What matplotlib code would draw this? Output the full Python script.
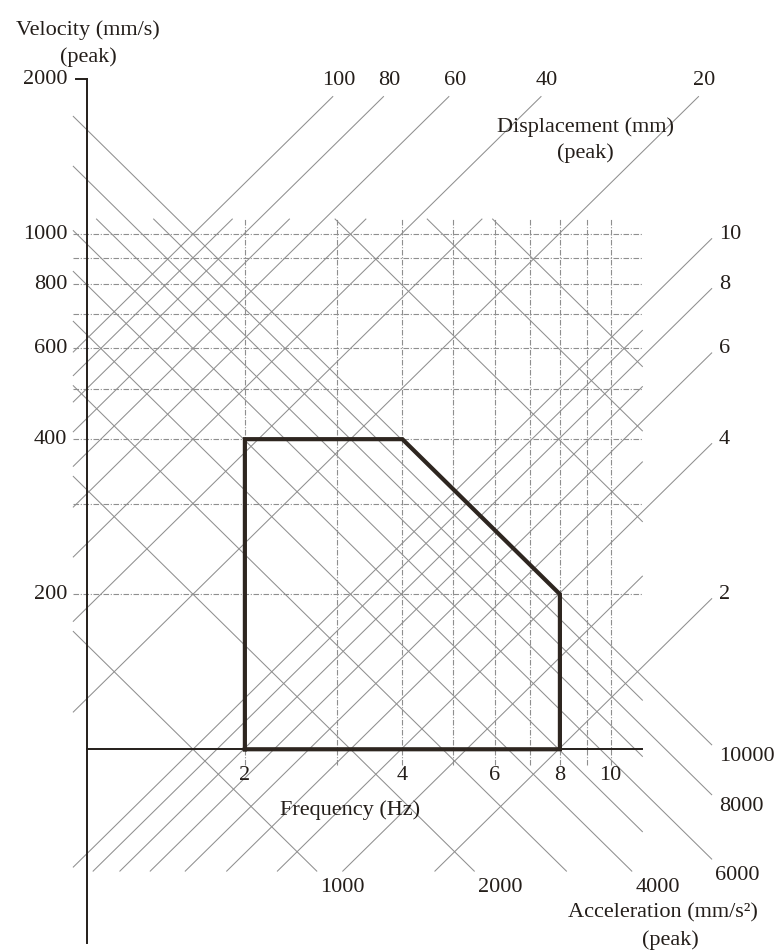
import numpy as np
import matplotlib
matplotlib.use('Agg')
import matplotlib.pyplot as plt

plt.rcParams['font.family'] = ['Liberation Serif', 'DejaVu Serif']

# Skale osi
czestotliwosci_opis = [2, 4, 6, 8, 10]          # Hz
predkosci_opis = [200, 400, 600, 800, 1000]     # mm/s
predkosc_max = 2000
czestotliwosci_siatka = [2, 3, 4, 5, 6, 7, 8, 9, 10]
predkosci_siatka = [200, 300, 400, 500, 600, 700, 800, 900, 1000]

# Linie stalego przemieszczenia (mm) i przyspieszenia (mm/s^2)
przem_gora = [100, 80, 60, 40, 20]
przem_prawo = [10, 8, 6, 4, 2]
przem_reszta = [3, 5, 7, 9, 30, 50, 70, 90]
przysp_prawo = [10000, 8000]
przysp_dol = [6000, 4000, 2000, 1000]
przysp_reszta = [3000, 5000, 7000, 9000, 20000, 30000, 40000]

# Obszar dopuszczalny (f, v)
obszar_f = [2, 2, 4, 8, 8, 2]
obszar_v = [100, 400, 400, 200, 100, 100]

# zakresy rysowania
F_LO, F_HI, V_LO, V_HI = 0.94, 15.6, 58, 1850      # linie opisane
F_HI_2, V_HI_2 = 11.5, 1070                        # reszta siatki

KOLOR_TEKST = '#241e1a'
KOLOR_SIATKA = '#8f8f8f'
FS = 16


def odcinek_przem(D, f_lo, f_hi, v_lo, v_hi):
    k = 2 * np.pi * D          # v = 2*pi*f*D
    f1 = max(f_lo, v_lo / k)
    f2 = min(f_hi, v_hi / k)
    if f1 >= f2:
        return None
    return [f1, f2], [k * f1, k * f2]


def odcinek_przysp(A, f_lo, f_hi, v_lo, v_hi):
    k = A / (2 * np.pi)        # v = A / (2*pi*f)
    f1 = max(f_lo, k / v_hi)
    f2 = min(f_hi, k / v_lo)
    if f1 >= f2:
        return None
    return [f1, f2], [k / f1, k / f2]


fig = plt.figure(figsize=(7.79, 9.52), dpi=100)
ax = fig.add_axes([0, 0, 1, 1])
ax.set_xscale('log')
ax.set_yscale('log')
ax.set_xlim(0.6808, 20.98)
ax.set_ylim(40.4, 2849)
ax.axis('off')

# siatka pozioma i pionowa
for v in predkosci_siatka:
    ax.plot([F_LO, F_HI_2], [v, v], color=KOLOR_SIATKA, lw=0.8,
            linestyle=(0, (5, 1.5, 1, 1.5)))
for f in czestotliwosci_siatka:
    ax.plot([f, f], [93, V_HI_2], color=KOLOR_SIATKA, lw=0.8,
            linestyle=(0, (5, 1.5, 1, 1.5)))

# linie przemieszczenia
for D in przem_gora + przem_prawo:
    xs, ys = odcinek_przem(D, F_LO, F_HI, V_LO, V_HI)
    ax.plot(xs, ys, color=KOLOR_SIATKA, lw=0.75)
    if D in przem_gora:
        ax.annotate(str(D), xy=(xs[1], ys[1]), xytext=(6, 16), textcoords='offset pixels',
                    ha='center', va='center', fontsize=FS, color=KOLOR_TEKST)
    else:
        ax.annotate(str(D), xy=(xs[1], ys[1]), xytext=(7, 4), textcoords='offset pixels',
                    ha='left', va='center', fontsize=FS, color=KOLOR_TEKST)
for D in przem_reszta:
    seg = odcinek_przem(D, F_LO, F_HI_2, V_LO, V_HI_2)
    if seg:
        ax.plot(seg[0], seg[1], color=KOLOR_SIATKA, lw=0.75)

# linie przyspieszenia
for A in przysp_prawo + przysp_dol:
    xs, ys = odcinek_przysp(A, F_LO, F_HI, V_LO, V_HI)
    ax.plot(xs, ys, color=KOLOR_SIATKA, lw=0.75)
    if A in przysp_prawo:
        ax.annotate(str(A), xy=(xs[1], ys[1]), xytext=(7, -12), textcoords='offset pixels',
                    ha='left', va='center', fontsize=FS, color=KOLOR_TEKST)
    else:
        ax.annotate(str(A), xy=(xs[1], ys[1]), xytext=(26, -16), textcoords='offset pixels',
                    ha='center', va='center', fontsize=FS, color=KOLOR_TEKST)
for A in przysp_reszta:
    seg = odcinek_przysp(A, F_LO, F_HI_2, V_LO, V_HI_2)
    if seg:
        ax.plot(seg[0], seg[1], color=KOLOR_SIATKA, lw=0.75)

# osie
ax.plot([1, 1], [42, predkosc_max], color=KOLOR_TEKST, lw=1.4)
ax.plot([0.95, 1], [predkosc_max, predkosc_max], color=KOLOR_TEKST, lw=1.4)
ax.plot([1, F_HI_2], [100, 100], color=KOLOR_TEKST, lw=1.4)

for v in predkosci_opis + [predkosc_max]:
    ax.annotate(str(v), xy=(1, v), xytext=(-20, 0), textcoords='offset pixels',
                ha='right', va='center', fontsize=FS, color=KOLOR_TEKST)
for f in czestotliwosci_opis:
    ax.annotate(str(f), xy=(f, 100), xytext=(0, -26), textcoords='offset pixels',
                ha='center', va='center', fontsize=FS, color=KOLOR_TEKST)

# obszar
ax.plot(obszar_f, obszar_v, color='#2e2620', lw=3, solid_joinstyle='miter')

# opisy osi
kw = dict(transform=ax.transAxes, ha='center', va='center', fontsize=FS, color=KOLOR_TEKST)
ax.text(0.113, 0.9685, 'Velocity (mm/s)', **kw)
ax.text(0.113, 0.940, '(peak)', **kw)
ax.text(0.751, 0.8666, 'Displacement (mm)', **kw)
ax.text(0.751, 0.839, '(peak)', **kw)
ax.text(0.449, 0.149, 'Frequency (Hz)', **kw)
ax.text(0.851, 0.041, 'Acceleration (mm/s²)', **kw)
ax.text(0.860, 0.0126, '(peak)', **kw)

plt.savefig('out.png', dpi=100, facecolor='white')
